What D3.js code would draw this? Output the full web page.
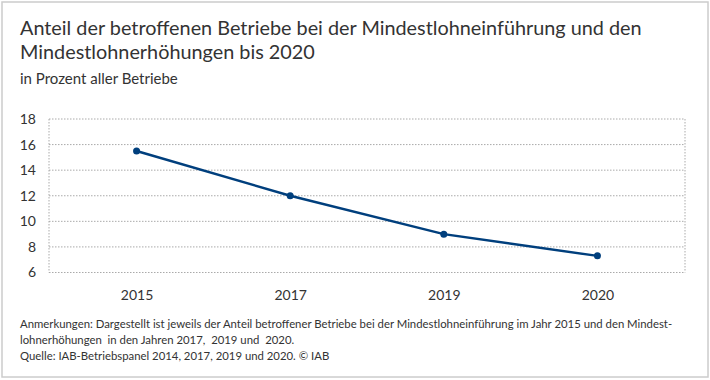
<!DOCTYPE html>
<html><head><meta charset="utf-8">
<script src="https://cdn.jsdelivr.net/npm/d3@7"></script>
<style>
body{margin:0;background:#fff;}
svg text{font-family:Lato,"Noto Sans",sans-serif;fill:#333;}
</style></head>
<body><svg id="c" width="710" height="380"></svg>
<script>
const years = ["2015","2017","2019","2020"];
const shares = [15.5, 12.0, 9.0, 7.3];
const yTicks = [6,8,10,12,14,16,18];
const titleLines = ["Anteil der betroffenen Betriebe bei der Mindestlohneinführung und den","Mindestlohnerhöhungen bis 2020"];
const subtitle = "in Prozent aller Betriebe";
const notes = ["Anmerkungen: Dargestellt ist jeweils der Anteil betroffener Betriebe bei der Mindestlohneinführung im Jahr 2015 und den Mindest-","lohnerhöhungen  in den Jahren 2017,  2019 und  2020.","Quelle: IAB-Betriebspanel 2014, 2017, 2019 und 2020. © IAB"];

const svg = d3.select("#c");
svg.append("rect").attr("x",2).attr("y",2).attr("width",706).attr("height",375)
  .attr("fill","#fff").attr("stroke","#cccccc").attr("stroke-width",1.5);

const L=49,R=685,T=119,B=272.5;
const x = d3.scalePoint().domain(years).range([L,R]).padding(0.57);
const y = d3.scaleLinear().domain([6,18]).range([B,T]);

function fit(sel, base, target){
  const w = sel.node().getComputedTextLength();
  return base*target/w;
}
const tt = titleLines.map((t,i)=>svg.append("text").attr("x",20).attr("y",35+i*23.5).attr("font-size",20).style("white-space","pre").text(t));
const tfs = fit(tt[0],20,622);
tt.forEach(s=>s.attr("font-size",tfs));
svg.append("text").attr("x",20).attr("y",84).attr("font-size",15).text(subtitle);

const g = svg.append("g");
g.selectAll("line.grid").data(yTicks).join("line").attr("class","grid")
  .attr("x1",L).attr("x2",R).attr("y1",d=>y(d)).attr("y2",d=>y(d))
  .attr("stroke","#aaa").attr("stroke-width",1).attr("stroke-dasharray","1.5,1.5");
[L,R].forEach(xx=>g.append("line").attr("x1",xx).attr("x2",xx).attr("y1",T).attr("y2",B)
  .attr("stroke","#aaa").attr("stroke-width",1).attr("stroke-dasharray","1.5,1.5"));

const ya = d3.axisLeft(y).tickValues(yTicks).tickSize(0).tickPadding(13);
svg.append("g").attr("transform",`translate(${L},0)`).call(ya)
  .call(s=>s.select(".domain").remove())
  .selectAll("text").attr("font-size",14).attr("font-family","Lato,sans-serif").attr("fill","#333");
const xa = d3.axisBottom(x).tickSize(0).tickPadding(18);
svg.append("g").attr("transform",`translate(0,${B})`).call(xa)
  .call(s=>s.select(".domain").remove())
  .selectAll("text").attr("font-size",14).attr("font-family","Lato,sans-serif").attr("fill","#333");

const line = d3.line().x((d,i)=>x(years[i])).y(d=>y(d));
svg.append("path").datum(shares).attr("d",line).attr("fill","none")
  .attr("stroke","#003f7d").attr("stroke-width",2.5);
svg.selectAll("circle.pt").data(shares).join("circle").attr("class","pt")
  .attr("cx",(d,i)=>x(years[i])).attr("cy",d=>y(d)).attr("r",3.5).attr("fill","#003f7d");

const nn = notes.map((t,i)=>svg.append("text").attr("x",20).attr("y",328+i*16).attr("font-size",11.5).style("white-space","pre").text(t));
const nfs = fit(nn[0],11.5,653);
nn.forEach(s=>s.attr("font-size",nfs));
</script></body></html>
